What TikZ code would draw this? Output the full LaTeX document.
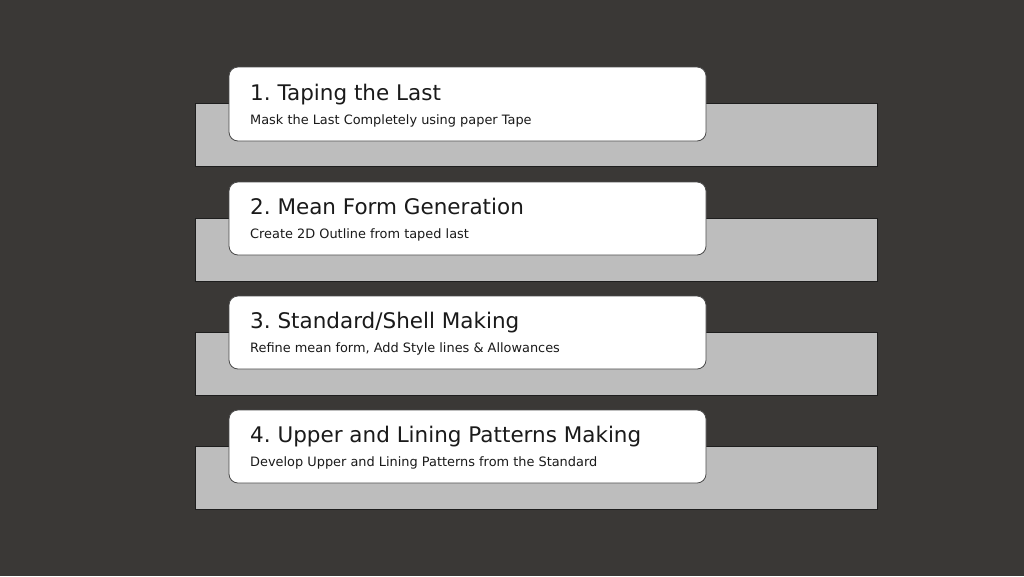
\documentclass[tikz,border=0pt]{standalone}
\usepackage{fontspec}
\setmainfont{DejaVu Sans}
\frenchspacing
\definecolor{bgc}{HTML}{3A3836}
\definecolor{backc}{HTML}{BDBDBD}
\definecolor{edgec}{HTML}{1E1E1E}
\definecolor{cardedge}{HTML}{4A4A4A}
\definecolor{txtc}{HTML}{1A1A1A}
\tikzset{
  backbar/.style={fill=backc, draw=edgec, line width=0.8pt},
  card/.style={fill=white, draw=cardedge, line width=0.8pt, rounded corners=9pt},
  ttl/.style={anchor=base west, inner sep=0pt, font=\fontsize{21.5}{25}\selectfont, text=txtc},
  sub/.style={anchor=base west, inner sep=0pt, font=\fontsize{12.9}{15}\selectfont, text=txtc},
}
\begin{document}
\begin{tikzpicture}[x=1pt,y=-1pt]
\useasboundingbox (0,0) rectangle (1024,576);
\fill[bgc] (0,0) rectangle (1024,576);
% row 1
\draw[backbar] (195,103) rectangle (877,166);
\draw[card] (229,67) rectangle (706,141);
\node[ttl] (t1) at (250,100) {1. Taping the Last};
\node[sub] (s1) at (250,124) {Mask the Last Completely using paper Tape};
% row 2
\draw[backbar] (195,218) rectangle (877,281);
\draw[card] (229,182) rectangle (706,255);
\node[ttl] (t2) at (250,214) {2. Mean Form Generation};
\node[sub] (s2) at (250,238) {Create 2D Outline from taped last};
% row 3
\draw[backbar] (195,332) rectangle (877,395);
\draw[card] (229,296) rectangle (706,369);
\node[ttl] (t3) at (250,328) {3. Standard/Shell Making};
\node[sub] (s3) at (250,352) {Refine mean form, Add Style lines \& Allowances};
% row 4
\draw[backbar] (195,446) rectangle (877,509);
\draw[card] (229,410) rectangle (706,483);
\node[ttl] (t4) at (250,442) {4. Upper and Lining Patterns Making};
\node[sub] (s4) at (250,466) {Develop Upper and Lining Patterns from the Standard};
\end{tikzpicture}
\end{document}
